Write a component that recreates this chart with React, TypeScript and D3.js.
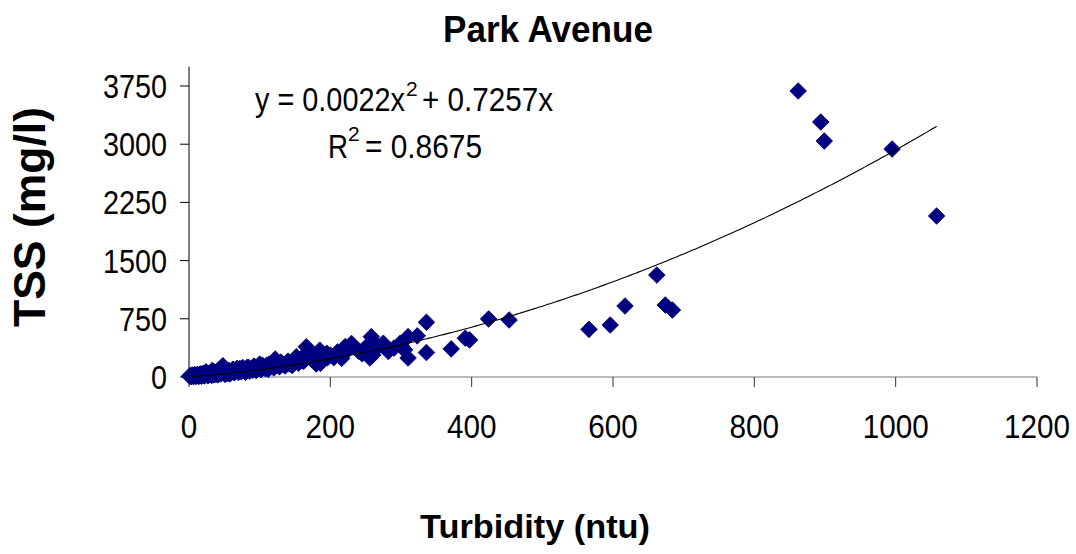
import React from 'react';
import * as d3 from 'd3';

const chartTitle = 'Park Avenue';
const xAxisTitle = 'Turbidity (ntu)';
const yAxisTitle = 'TSS (mg/l)';
const xTickValues = [0, 200, 400, 600, 800, 1000, 1200];
const yTickValues = [0, 750, 1500, 2250, 3000, 3750];
const trendA = 0.0022;
const trendB = 0.7257;
const rSquared = '0.8675';

const turbidity = [
  1, 2, 3, 4, 5, 6, 7, 8, 9, 10, 11, 12, 13, 14, 15, 16, 17, 18, 19, 20,
  21, 22, 23, 25, 26, 27, 28, 30, 31, 32, 34, 35, 36, 38, 40, 41, 43, 45, 47, 48,
  50, 51, 53, 55, 57, 58, 60, 62, 64, 66, 68, 70, 72, 74, 76, 78, 80, 82, 84, 86,
  88, 90, 92, 95, 98, 100, 102, 105, 108, 110, 112, 115, 118, 120, 122, 125, 128, 130, 133, 136,
  140, 143, 146, 150, 152, 155, 158, 162, 166, 169, 172, 175, 178, 180, 182, 185, 186, 190, 195, 200,
  205, 210, 216, 221, 225, 230, 240, 250, 256, 258, 260, 263, 268, 275, 290, 299, 301, 305, 310, 310,
  323, 336, 336, 371, 391, 397, 424, 453, 566, 596, 617, 662, 674, 684, 862, 894, 899, 995, 1058,
  24, 33, 42, 63, 72, 82, 92, 104, 113, 140, 160, 196, 212, 245, 282,
];
const tss = [
  10, 20, 4, 14, 24, 8, 18, 30, 6, 20, 12, 34, 16, 8, 26, 40, 18, 10, 30, 46,
  22, 14, 36, 50, 24, 16, 40, 30, 56, 20, 44, 28, 66, 34, 50, 28, 62, 40, 74, 145,
  54, 34, 70, 46, 84, 40, 62, 98, 54, 78, 112, 60, 90, 68, 122, 78, 62, 104, 126, 76,
  108, 88, 132, 84, 118, 166, 94, 134, 108, 152, 98, 142, 178, 118, 232, 152, 132, 192, 160, 142,
  204, 170, 148, 214, 262, 178, 232, 200, 390, 300, 240, 262, 200, 168, 282, 345, 176, 262, 305, 282,
  250, 322, 240, 392, 352, 432, 332, 382, 245, 520, 285, 410, 392, 435, 372, 435, 392, 350, 520, 245,
  530, 705, 315, 362, 500, 478, 748, 735, 614, 670, 915, 1314, 928, 863, 3686, 3286, 3041, 2938, 2075,
  66, 84, 90, 97, 110, 122, 140, 150, 165, 170, 245, 250, 300, 300, 330,
];

const FONT = '"Liberation Sans", Arial, Helvetica, sans-serif';

export default function App() {
  const W = 1076;
  const H = 554;
  const x = d3.scaleLinear().domain([0, 1200]).range([189, 1037]);
  const y = d3.scaleLinear().domain([0, 4000]).range([377, 66.6]);

  const points = turbidity.map((t, i) => ({ t, s: tss[i] }));
  const diamond = d3.symbol().type(d3.symbolSquare).size(138)() as string;

  const maxT = d3.max(turbidity) as number;
  const trendXs = d3.range(0, maxT, 4).concat([maxT]);
  const trendLine = d3
    .line<number>()
    .x((d) => x(d))
    .y((d) => y(trendA * d * d + trendB * d));

  return (
    <svg
      width={W}
      height={H}
      style={{ position: 'absolute', left: 0, top: 0, background: '#fff' }}
      fontFamily={FONT}
    >
      <rect x={0} y={0} width={W} height={H} fill="#fff" />
      {/* Title */}
      <text x={548} y={41.5} fontSize={36} fontWeight="bold" textAnchor="middle" textLength={210} lengthAdjust="spacingAndGlyphs">
        {chartTitle}
      </text>

      {/* Axes */}
      <line x1={189} x2={189} y1={y(4000)} y2={y(0)} stroke="#000" strokeWidth={1} />
      <line x1={189} x2={1037} y1={y(0)} y2={y(0)} stroke="#777" strokeWidth={1.2} />
      {yTickValues.map((v) => (
        <g key={'yt' + v}>
          <line x1={180} x2={189} y1={y(v)} y2={y(v)} stroke="#000" />
          <text
            x={167}
            y={y(v) + 12}
            fontSize={33}
            textAnchor="end"
            textLength={String(v).length * 16}
            lengthAdjust="spacingAndGlyphs"
          >
            {v}
          </text>
        </g>
      ))}
      {xTickValues.map((v) => (
        <g key={'xt' + v}>
          <line x1={x(v)} x2={x(v)} y1={y(0)} y2={y(0) + 10} stroke="#333" />
          <text
            x={x(v)}
            y={438}
            fontSize={34}
            textAnchor="middle"
            textLength={String(v).length * 16.5}
            lengthAdjust="spacingAndGlyphs"
          >
            {v}
          </text>
        </g>
      ))}

      {/* Points */}
      {points.map((p, i) => (
        <path
          key={i}
          d={diamond}
          transform={`translate(${x(p.t)},${y(p.s)}) rotate(45)`}
          fill="#000080"
          stroke="#000080"
          strokeWidth={0.8}
          strokeLinejoin="round"
        />
      ))}

      {/* Trendline */}
      <path d={trendLine(trendXs) as string} fill="none" stroke="#000" strokeWidth={1.1} />

      {/* Equation */}
      <text x={255} y={111} fontSize={34} textLength={150} lengthAdjust="spacingAndGlyphs">
        y = 0.0022x
      </text>
      <text x={406} y={96} fontSize={21}>
        2
      </text>
      <text x={422} y={111} fontSize={34} textLength={131} lengthAdjust="spacingAndGlyphs">
        + 0.7257x
      </text>
      <text x={328} y={158} fontSize={34} textLength={20} lengthAdjust="spacingAndGlyphs">
        R
      </text>
      <text x={348} y={141} fontSize={21}>
        2
      </text>
      <text x={365} y={158} fontSize={34} textLength={117} lengthAdjust="spacingAndGlyphs">
        {'= ' + rSquared}
      </text>

      {/* Axis titles */}
      <text x={535} y={538} fontSize={33} fontWeight="bold" textAnchor="middle" textLength={230} lengthAdjust="spacingAndGlyphs">
        {xAxisTitle}
      </text>
      <text
        transform={`translate(45,217) rotate(-90)`}
        fontSize={44}
        fontWeight="bold"
        textAnchor="middle"
        textLength={220}
        lengthAdjust="spacingAndGlyphs"
      >
        {yAxisTitle}
      </text>
    </svg>
  );
}
